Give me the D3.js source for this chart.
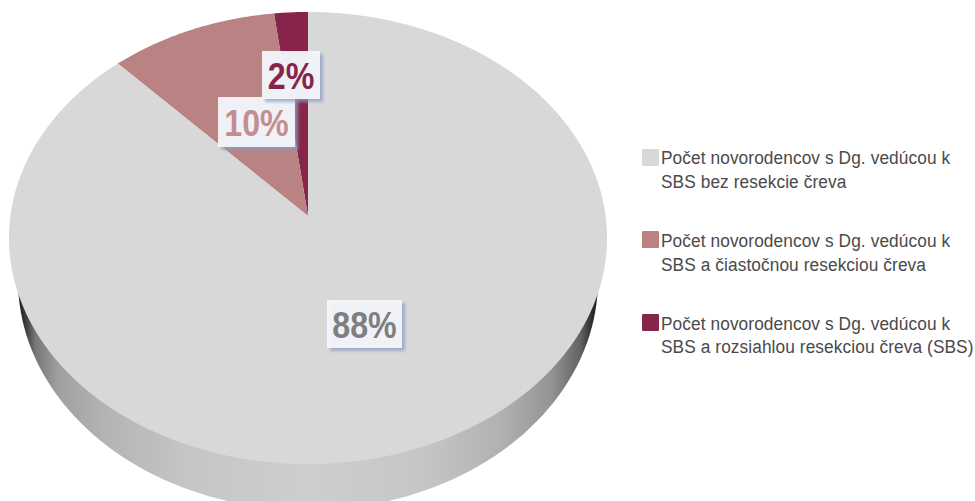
<!DOCTYPE html>
<html>
<head>
<meta charset="utf-8">
<script src="https://cdn.jsdelivr.net/npm/d3@7/dist/d3.min.js"></script>
<style>
html,body{margin:0;padding:0;background:#fff}
svg{display:block}
text{font-family:"Liberation Sans",Arial,sans-serif}
</style>
</head>
<body>
<svg id="chart" width="975" height="501"></svg>
<script>
// Share of newborns by extent of bowel resection
const values = [88, 10, 2];
const categories = [
  ["Počet novorodencov s Dg. vedúcou k", "SBS bez resekcie čreva"],
  ["Počet novorodencov s Dg. vedúcou k", "SBS a čiastočnou resekciou čreva"],
  ["Počet novorodencov s Dg. vedúcou k", "SBS a rozsiahlou resekciou čreva (SBS)"]
];
const sliceColors = ["#d8d8d8", "#b98283", "#862549"];
const labelColors = ["#7f7f7f", "#c28e90", "#862549"];

// Layout of the tilted disc
const apex = {x: 308, y: 216};
const radiusX = 297.6, radiusY = 223.9, tilt = 0.0973;
const wall = {cx: 308, cy: 280, rx: 290, ry: 230};
const labelBoxes = [
  {x: 327, y: 300, w: 75, h: 48},
  {x: 218, y: 97, w: 77, h: 50},
  {x: 262, y: 51, w: 58, h: 48}
];
const legendTop = [149, 231, 314];
const legendBaseline = [[164, 188], [247, 271], [330, 353]];

const svg = d3.select("#chart");
const defs = svg.append("defs");

const wallStops = [
  [0, "#1c1c1c"], [0.012, "#383838"], [0.03, "#777"], [0.07, "#a0a0a0"], [0.15, "#b4b4b4"],
  [0.3, "#c6c6c6"], [0.5, "#cecece"], [0.7, "#c6c6c6"], [0.83, "#b2b2b2"],
  [0.92, "#949494"], [0.97, "#626262"], [0.99, "#2c2c2c"], [1, "#181818"]
];
const grad = defs.append("linearGradient").attr("id", "wallShade")
  .attr("gradientUnits", "userSpaceOnUse")
  .attr("x1", wall.cx - wall.rx).attr("x2", wall.cx + wall.rx).attr("y1", 0).attr("y2", 0);
grad.selectAll("stop").data(wallStops).join("stop")
  .attr("offset", d => d[0]).attr("stop-color", d => d[1]);

const shadow = defs.append("filter").attr("id", "boxShadow")
  .attr("x", "-20%").attr("y", "-20%").attr("width", "150%").attr("height", "150%");
shadow.append("feGaussianBlur").attr("stdDeviation", 1.6);

// Perspective projection of a pie angle (clockwise from twelve o'clock) onto the disc
function project(angle) {
  const ux = Math.sin(angle), uy = -Math.cos(angle);
  const w = 1 - tilt * uy;
  return [apex.x + radiusX * ux / w, apex.y + radiusY * uy / w];
}

const line = d3.line();

// Rim of the disc
const wallAngles = d3.range(0, Math.PI + 0.01, Math.PI / 90);
svg.append("path")
  .attr("d", line(wallAngles.map(t => [
    wall.cx - wall.rx * Math.cos(t),
    wall.cy + wall.ry * Math.sin(t)
  ])) + "Z")
  .attr("fill", "url(#wallShade)");

// Slices run counter-clockwise from the top, smallest share first
const order = values.map((v, i) => i).reverse();
const pie = d3.pie().sort(null).value(i => values[i]);
const arcs = pie(order);

svg.append("g").selectAll("path").data(arcs).join("path")
  .attr("fill", d => sliceColors[d.data])
  .attr("d", d => {
    const a0 = -d.startAngle, a1 = -d.endAngle;
    const steps = Math.max(2, Math.ceil(Math.abs(a1 - a0) / 0.01));
    const rim = d3.range(steps + 1).map(k => project(a0 + (a1 - a0) * k / steps));
    return line([[apex.x, apex.y], ...rim]) + "Z";
  });

// Value tags, with the smallest share on top
const tagOrder = [0, 1, 2];
const tags = svg.append("g").selectAll("g").data(tagOrder).join("g");
tags.append("rect")
  .attr("x", i => labelBoxes[i].x + 3).attr("y", i => labelBoxes[i].y + 3)
  .attr("width", i => labelBoxes[i].w).attr("height", i => labelBoxes[i].h)
  .attr("fill", "#8d9fc4").attr("opacity", 0.75).attr("filter", "url(#boxShadow)");
tags.append("rect")
  .attr("x", i => labelBoxes[i].x).attr("y", i => labelBoxes[i].y)
  .attr("width", i => labelBoxes[i].w).attr("height", i => labelBoxes[i].h)
  .attr("fill", "#f5f6fb").attr("fill-opacity", 0.94);
tags.append("text")
  .attr("x", i => labelBoxes[i].x + labelBoxes[i].w / 2)
  .attr("y", i => labelBoxes[i].y + labelBoxes[i].h / 2 + 14)
  .attr("text-anchor", "middle")
  .attr("font-size", 37).attr("font-weight", "bold")
  .attr("fill", i => labelColors[i])
  .attr("transform", i => {
    const cx = labelBoxes[i].x + labelBoxes[i].w / 2;
    return `translate(${cx},0) scale(0.87,1) translate(${-cx},0)`;
  })
  .text(i => values[i] + "%");

// Legend
const legend = svg.append("g").selectAll("g").data(categories).join("g");
legend.append("rect")
  .attr("x", 642).attr("y", (d, i) => legendTop[i])
  .attr("width", 17).attr("height", 17).attr("rx", 1)
  .attr("fill", (d, i) => sliceColors[i]);
legend.each(function (lines, i) {
  d3.select(this).selectAll("text").data(lines).join("text")
    .attr("x", 661)
    .attr("y", (d, k) => legendBaseline[i][k])
    .attr("font-size", 18)
    .attr("letter-spacing", 0.1)
    .attr("fill", "#4a4a4a")
    .attr("transform", `translate(661,0) scale(0.96,1) translate(-661,0)`)
    .text(d => d);
});
</script>
</body>
</html>
